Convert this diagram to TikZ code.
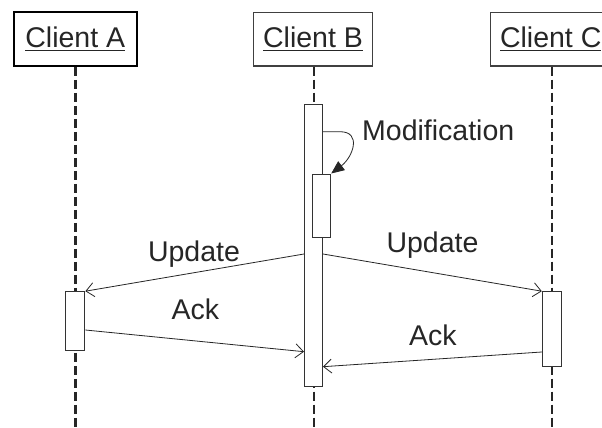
\documentclass[tikz,border=0pt]{standalone}
\usepackage{fontspec}
\setmainfont{Liberation Sans}
\usetikzlibrary{arrows.meta}

\newcommand{\uname}[1]{\vtop{\hbox{#1}\kern2pt\hrule height 1.3pt}}

\tikzset{
	head/.style={draw=black!75, fill=white, line width=1.2pt, inner sep=0pt, minimum height=53.5pt, font=\fontsize{28.5}{30}\selectfont, text=black!85},
	life/.style={dash pattern=on 9pt off 4pt, line width=2pt, black!85},
	bar/.style={draw=black!80, fill=white, line width=1pt, inner sep=0pt, minimum width=18pt},
	msg/.style={-{Straight Barb[length=8pt,width=14pt]}, line width=0.8pt, black!85},
	lbl/.style={font=\fontsize{28.5}{30}\selectfont, text=black!85, inner sep=0pt},
}

\begin{document}
\begin{tikzpicture}[x=1pt,y=-1pt]
	\useasboundingbox[fill=white] (0,0) rectangle (602,428);
	\node[head, line width=2pt, draw=black, minimum width=123.5pt] (ca) at (75.3,39) {\uname{Client A}};
	\node[head, minimum width=119.4pt] (cb) at (313,39.2) {\uname{Client B}};
	\node[head, minimum width=120pt] (cc) at (550.7,39.2) {\uname{Client C}};
	\coordinate (endA) at (75.3,428);
	\coordinate (endB) at (313.5,428);
	\coordinate (endC) at (551.7,428);
	\draw[life, line width=3pt] (ca.south) -- (endA);
	\draw[life] (cb.south -| endB) -- (endB);
	\draw[life] (cc.south -| endC) -- (endC);
	\node[bar, minimum height=282.7pt] (barB) at (313.5,245.35) {};
	\node[bar, minimum height=63.7pt] (barS) at (321.7,205.85) {};
	\node[bar, minimum width=19pt, minimum height=58.3pt] (barA) at (75.35,320.85) {};
	\node[bar, minimum width=19pt, minimum height=75pt] (barC) at (551.8,329.2) {};
	\draw[line width=0.8pt, black!85, -{Triangle[length=13pt,width=11pt]}] (barB.east |- 0,131.7) -- (340,131.7) .. controls (362,131.7) and (353,157) .. (barS.north east);
	\node[lbl, anchor=base west] (modif) at (362,140) {Modification};
	\draw[msg] (barB.west |- 0,254) -- (barA.north east);
	\draw[msg] (barB.east |- 0,254) -- (barC.north west);
	\draw[msg] (barA.east |- 0,330) -- (barB.west |- 0,351.7);
	\draw[msg] (barC.west |- 0,352) -- (barB.east |- 0,366.7);
	\node[lbl, anchor=base] (updA) at (194,261.5) {Update};
	\node[lbl, anchor=base] (updC) at (432.5,252.7) {Update};
	\node[lbl, anchor=base] (ackA) at (195.3,319.3) {Ack};
	\node[lbl, anchor=base] (ackC) at (432.8,345.7) {Ack};
\end{tikzpicture}
\end{document}
